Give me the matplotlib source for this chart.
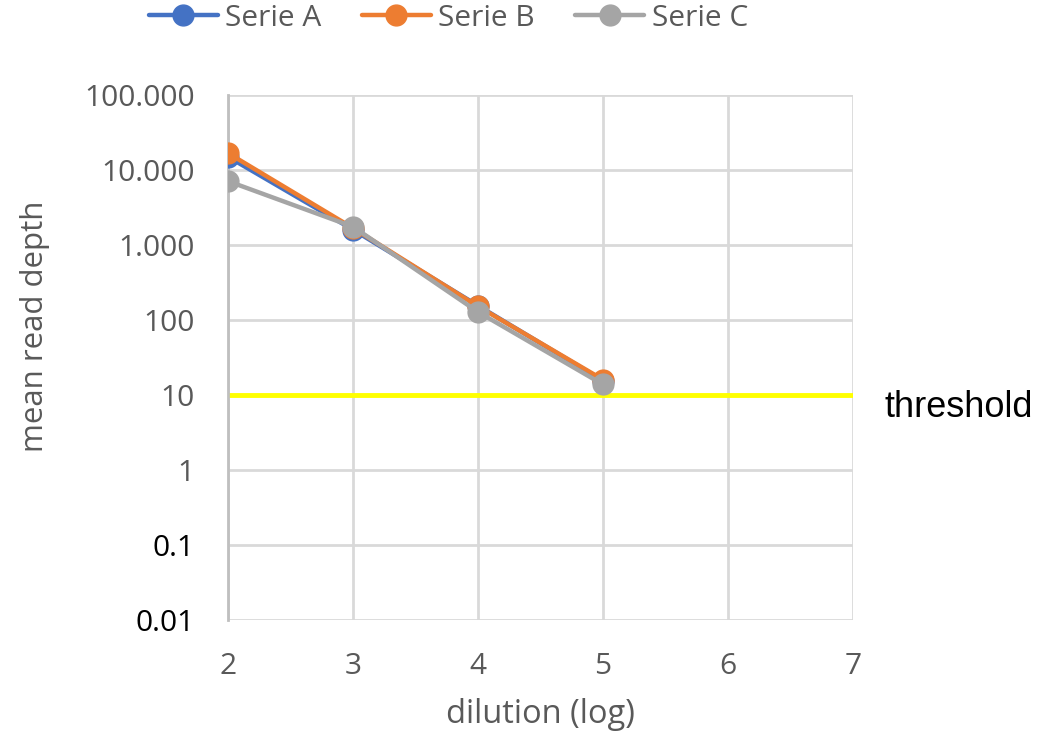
import matplotlib.pyplot as plt
from matplotlib.ticker import FixedLocator, FixedFormatter, NullLocator

# Data
dilution = [2, 3, 4, 5]
serie_a = [15000, 1600, 155, 15.5]
serie_b = [16800, 1680, 152, 16]
serie_c = [7100, 1750, 128, 13.8]
threshold = 10

y_ticks = [0.01, 0.1, 1, 10, 100, 1000, 10000, 100000]
y_tick_labels = ['0.01', '0.1', '1', '10', '100', '1.000', '10.000', '100.000']
x_ticks = [2, 3, 4, 5, 6, 7]

series_colors = {'Serie A': '#4472C4', 'Serie B': '#ED7D31', 'Serie C': '#A5A5A5'}
text_grey = '#595959'

plt.rcParams['font.family'] = ['Open Sans', 'DejaVu Sans']

fig = plt.figure(figsize=(10.61, 7.38), dpi=100)
ax = fig.add_axes([0.2149, 0.1599, 0.804 - 0.2149, 0.8713 - 0.1599])

for name, values in [('Serie A', serie_a), ('Serie B', serie_b), ('Serie C', serie_c)]:
    ax.plot(dilution, values, color=series_colors[name], lw=3.2, marker='o',
            markersize=15, label=name, zorder=3, solid_capstyle='round')

# Threshold line
ax.axhline(threshold, color='#FFFF00', lw=3.5, zorder=2)
ax.text(1.050, 0.3867, 'threshold', transform=ax.transAxes,
        fontsize=26, family='Liberation Sans', color='black', va='baseline', ha='left')

ax.set_yscale('log')
ax.set_ylim(0.01, 100000)
ax.set_xlim(2, 7)
ax.yaxis.set_major_locator(FixedLocator(y_ticks))
ax.yaxis.set_major_formatter(FixedFormatter(y_tick_labels))
ax.yaxis.set_minor_locator(NullLocator())
ax.set_xticks(x_ticks)

ax.grid(True, color='#D9D9D9', lw=2, zorder=0)
ax.set_axisbelow(True)
for side in ['top', 'right', 'bottom']:
    ax.spines[side].set_visible(False)
ax.spines['left'].set_color('#BFBFBF')
ax.spines['left'].set_linewidth(2)
ax.tick_params(length=0, labelsize=21.5, colors=text_grey)
ax.tick_params(axis='y', pad=24)
ax.tick_params(axis='x', pad=23)
for lbl in ax.get_yticklabels():
    if lbl.get_text() in ('0.1', '0.01'):
        lbl.set_color('black')

ax.set_xlabel('dilution (log)', fontsize=23.5, color=text_grey, va='top')
ax.set_ylabel('mean read depth', fontsize=22.5, color=text_grey)
ax.xaxis.set_label_coords(0.5, -0.148)
ax.yaxis.set_label_coords(-0.284, 0.559)

ax.legend(loc='center', bbox_to_anchor=(0.4227, 0.9756), bbox_transform=fig.transFigure,
          ncol=3, frameon=False, fontsize=21.5, labelcolor=text_grey, handlelength=2.3,
          columnspacing=1.36, handletextpad=0.25, borderpad=0, borderaxespad=0)

plt.savefig('out.png', dpi=100)
